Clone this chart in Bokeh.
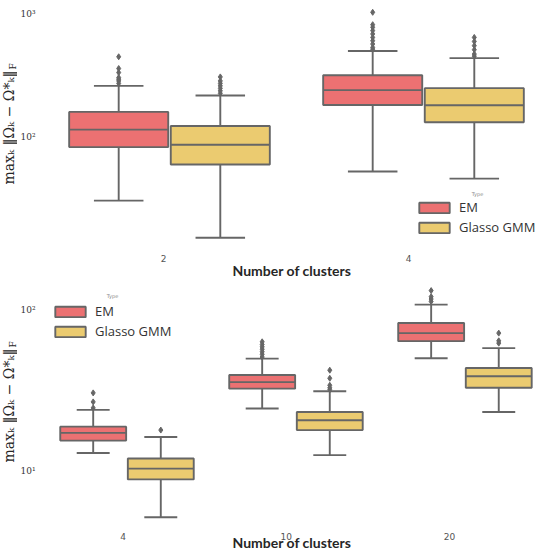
import numpy as np
from bokeh.plotting import figure
from bokeh.layouts import column, row
from bokeh.models import (Range1d, FixedTicker, LinearAxis, Label, Legend,
                          LegendItem)
from bokeh.embed import file_html
from bokeh.resources import INLINE

# ---- upper panel: 2 and 4 clusters ----
top_clusters = ["2", "4"]
top_em_low = [30.6, 52.6]
top_em_q1 = [83.0, 182.0]
top_em_med = [115.0, 240.0]
top_em_q3 = [160.0, 317.0]
top_em_high = [260.0, 498.0]
top_em_out = [[272, 285, 294, 303, 333, 359, 447],
              [515, 532, 567, 603, 641, 684, 728, 774, 813, 1024]]

top_gl_low = [15.3, 46.1]
top_gl_q1 = [60.0, 132.0]
top_gl_med = [86.6, 181.0]
top_gl_q3 = [123.0, 249.0]
top_gl_high = [217.0, 436.0]
top_gl_out = [[226, 237, 248, 260, 272, 285, 307],
              [452, 470, 510, 550, 595, 641]]

# ---- lower panel: 4, 10 and 20 clusters ----
bot_clusters = ["4", "10", "20"]
bot_em_low = [12.9, 24.4, 50.1]
bot_em_q1 = [15.4, 32.4, 64.0]
bot_em_med = [17.2, 35.6, 71.8]
bot_em_q3 = [18.8, 39.4, 83.0]
bot_em_high = [23.9, 49.8, 108.0]
bot_em_out = [[24.6, 26.8, 30.5],
              [51.0, 53.0, 55.0, 57.0, 59.0, 61.0, 63.4],
              [113.0, 117.0, 121.0, 132.0]]

bot_gl_low = [5.13, 12.5, 23.2]
bot_gl_q1 = [8.83, 17.9, 32.8]
bot_gl_med = [10.3, 20.6, 38.7]
bot_gl_q3 = [11.9, 23.2, 43.6]
bot_gl_high = [16.2, 31.2, 57.9]
bot_gl_out = [[17.9],
              [31.9, 32.8, 34.0, 37.6, 42.2],
              [62.2, 64.3, 71.8]]

methods = ["EM", "Glasso GMM"]
colors = ["#ec7172", "#ebcb70"]
EDGE = "#666666"
BOX_W = 0.39
OFFSET = 0.2
LABEL_W = 17


def draw_boxes(p, idx, low, q1, med, q3, high, outliers, color):
    x = np.asarray(idx, dtype=float)
    half = BOX_W / 2
    cap = BOX_W / 4
    p.segment(x, q3, x, high, line_color=EDGE, line_width=1.9)
    p.segment(x, q1, x, low, line_color=EDGE, line_width=1.9)
    p.segment(x - cap, high, x + cap, high, line_color=EDGE, line_width=1.9)
    p.segment(x - cap, low, x + cap, low, line_color=EDGE, line_width=1.9)
    box = p.vbar(x=x, width=BOX_W, bottom=q1, top=q3, fill_color=color,
                 line_color=EDGE, line_width=1.9)
    p.segment(x - half, med, x + half, med, line_color=EDGE, line_width=1.9)
    ox, oy = [], []
    for xi, vals in zip(x, outliers):
        ox += [xi] * len(vals)
        oy += list(vals)
    p.scatter(ox, oy, marker="diamond", size=6, color=EDGE)
    return box


def make_panel(clusters, em, gl, y_lo, y_hi, x_end, tick_start, tick_end,
               height, legend_loc, tick_standoff, label_standoff, title_xy):
    n = len(clusters)
    p = figure(width=541 - LABEL_W, height=height, y_axis_type="log",
               x_range=Range1d(-0.5, x_end), y_range=Range1d(y_lo, y_hi),
               x_axis_location=None, output_backend="svg",
               toolbar_location=None, min_border_left=42 - LABEL_W,
               min_border_right=0, min_border_top=0,
               min_border_bottom=10)
    p.outline_line_color = None
    p.grid.visible = False

    pos = np.arange(n)
    r_em = draw_boxes(p, pos - OFFSET, *em, colors[0])
    r_gl = draw_boxes(p, pos + OFFSET, *gl, colors[1])

    # category axis
    p.extra_x_ranges = {"ticks": Range1d(tick_start, tick_end)}
    xa = LinearAxis(x_range_name="ticks",
                    ticker=FixedTicker(ticks=list(range(n))),
                    major_label_overrides={i: c for i, c in enumerate(clusters)},
                    axis_label="Number of clusters")
    xa.axis_line_color = None
    xa.major_tick_line_color = None
    xa.minor_tick_line_color = None
    xa.major_tick_out = 0
    xa.major_tick_in = 0
    xa.major_label_text_font = "DejaVu Sans"
    xa.major_label_text_font_size = "9px"
    xa.major_label_text_color = "#555555"
    xa.major_label_standoff = tick_standoff
    xa.axis_label_text_font = "Lato"
    xa.axis_label_text_font_style = "bold"
    xa.axis_label_text_font_size = "14px"
    xa.axis_label_text_color = "#262626"
    xa.axis_label_standoff = label_standoff
    p.add_layout(xa, "below")

    ya = p.yaxis[0]
    ya.ticker = FixedTicker(ticks=[10, 100, 1000])
    ya.major_label_overrides = {10: "10¹", 100: "10²", 1000: "10³"}
    ya.axis_line_color = None
    ya.major_tick_line_color = None
    ya.minor_tick_line_color = None
    ya.major_tick_out = 0
    ya.major_tick_in = 0
    ya.major_label_text_font = "DejaVu Serif"
    ya.major_label_text_font_size = "9px"
    ya.major_label_text_color = "#333333"
    ya.major_label_standoff = 7

    legend = Legend(items=[LegendItem(label=methods[0], renderers=[r_em]),
                           LegendItem(label=methods[1], renderers=[r_gl])],
                    location=legend_loc, glyph_width=38, glyph_height=13,
                    label_height=20, label_standoff=6, spacing=0,
                    padding=0, margin=0, border_line_color=None,
                    background_fill_alpha=0,
                    label_text_font="Open Sans",
                    label_text_font_size="13px",
                    label_text_color="#333333")
    p.add_layout(legend)
    p.add_layout(Label(x=title_xy[0] - LABEL_W, y=title_xy[1],
                       x_units="canvas", y_units="canvas", text="Type",
                       text_align="center", text_baseline="middle",
                       text_font="DejaVu Sans", text_font_size="5px",
                       text_color="#888888"))
    return p


def ylabel_strip(height, y_mid, y_end):
    # narrow strip holding the rotated y-axis label
    s = figure(width=LABEL_W, height=height, x_range=Range1d(0, 1),
               y_range=Range1d(0, 1), x_axis_location=None,
               y_axis_location=None, output_backend="svg",
               toolbar_location=None, min_border=0)
    s.outline_line_color = None
    s.grid.visible = False
    s.add_layout(Label(x=8, y=y_mid, x_units="canvas", y_units="canvas",
                       text="maxₖ ‖Ωₖ − Ω*ₖ‖", angle=np.pi / 2,
                       text_align="center", text_baseline="middle",
                       text_font="DejaVu Serif", text_font_size="14px",
                       text_color="#262626"))
    s.add_layout(Label(x=12, y=y_end, x_units="canvas", y_units="canvas",
                       text="F", angle=np.pi / 2, text_align="left",
                       text_baseline="middle", text_font="DejaVu Serif",
                       text_font_size="9px", text_color="#262626"))
    return s


p1 = make_panel(top_clusters,
                (top_em_low, top_em_q1, top_em_med, top_em_q3, top_em_high, top_em_out),
                (top_gl_low, top_gl_q1, top_gl_med, top_gl_q3, top_gl_high, top_gl_out),
                12.3, 1276, 1.4646, -0.4939, 1.5429, 281, (373, 12), 5, -3,
                (477, 193))
p2 = make_panel(bot_clusters,
                (bot_em_low, bot_em_q1, bot_em_med, bot_em_q3, bot_em_high, bot_em_out),
                (bot_gl_low, bot_gl_q1, bot_gl_med, bot_gl_q3, bot_gl_high, bot_gl_out),
                4.37, 150.4, 2.453, -0.4946, 2.564, 272, (9, 187), 4, -9,
                (112, 14))

layout = column(row(ylabel_strip(281, 127, 69), p1, spacing=0),
                row(ylabel_strip(272, 124, 66), p2, spacing=0),
                spacing=0)
open("out.html", "w").write(file_html(layout, INLINE))
